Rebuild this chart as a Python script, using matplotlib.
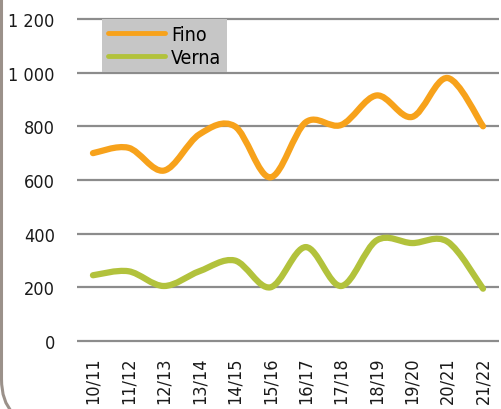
import numpy as np
import matplotlib.pyplot as plt
from matplotlib.path import Path
from matplotlib.patches import PathPatch, FancyBboxPatch
from matplotlib.lines import Line2D

plt.rcParams['font.family'] = ['DejaVu Sans']
plt.rcParams['font.stretch'] = 'condensed'

campanas = ['10/11', '11/12', '12/13', '13/14', '14/15', '15/16',
            '16/17', '17/18', '18/19', '19/20', '20/21', '21/22']
fino = [700, 720, 635, 770, 800, 610, 815, 805, 915, 835, 980, 800]
verna = [245, 260, 205, 260, 300, 200, 350, 205, 375, 365, 370, 195]

NARANJA = '#f7a21b'
VERDE = '#b2c23c'


def curva_suave(xs, ys):
    # bezier path through every point (catmull-rom style tangents)
    p = np.column_stack([xs, ys]).astype(float)
    verts = [p[0]]
    codes = [Path.MOVETO]
    n = len(p)
    for i in range(n - 1):
        p0 = p[i - 1] if i > 0 else p[i]
        p3 = p[i + 2] if i + 2 < n else p[i + 1]
        c1 = p[i] + (p[i + 1] - p0) / 6.0
        c2 = p[i + 1] - (p3 - p[i]) / 6.0
        verts += [c1, c2, p[i + 1]]
        codes += [Path.CURVE4] * 3
    return Path(verts, codes)


fig = plt.figure(figsize=(5.01, 4.10), dpi=100)
ax = fig.add_axes([0.1537, 0.1527, 0.8423, 0.8183])

x = np.arange(len(campanas))
for serie, color in [(fino, NARANJA), (verna, VERDE)]:
    ax.add_patch(PathPatch(curva_suave(x, serie), facecolor='none',
                           edgecolor=color, lw=4.5, capstyle='round',
                           joinstyle='round', zorder=3))

ax.set_xlim(-0.45, len(campanas) - 1 + 0.45)
ax.set_ylim(-20, 1230)
ax.set_yticks(range(0, 1201, 200))
ax.set_yticklabels(['0', '200', '400', '600', '800', '1 000', '1 200'])
ax.set_xticks(x)
ax.set_xticklabels(campanas, rotation=90)
ax.yaxis.grid(True, color='#8c8c8c', lw=1.6)
ax.set_axisbelow(True)
for s in ax.spines.values():
    s.set_visible(False)
ax.tick_params(axis='both', length=0, labelsize=13, colors='#1a1a1a')
ax.tick_params(axis='y', pad=16)
ax.tick_params(axis='x', pad=7)

handles = [Line2D([], [], color=NARANJA, lw=3.5, solid_capstyle='round'),
           Line2D([], [], color=VERDE, lw=3.5, solid_capstyle='round')]
leg = ax.legend(handles, ['Fino', 'Verna'], loc='upper left',
                bbox_to_anchor=(0.06, 1.0 - 8 / 335), fontsize=14,
                frameon=True, fancybox=False, handlelength=2.9,
                handletextpad=0.35, borderpad=0.3, labelspacing=0.2,
                borderaxespad=0)
leg.get_frame().set_facecolor('#c6c6c6')
leg.get_frame().set_edgecolor('none')
leg.get_frame().set_alpha(1)
leg.set_zorder(5)

# rounded frame around the chart
marco = FancyBboxPatch((0.015, -0.15), 6, 5,
                       boxstyle='round,pad=0,rounding_size=0.45',
                       transform=fig.dpi_scale_trans, facecolor='none',
                       edgecolor='#9b918a', lw=2.2)
fig.patches.append(marco)

fig.savefig('out.png', dpi=100)
